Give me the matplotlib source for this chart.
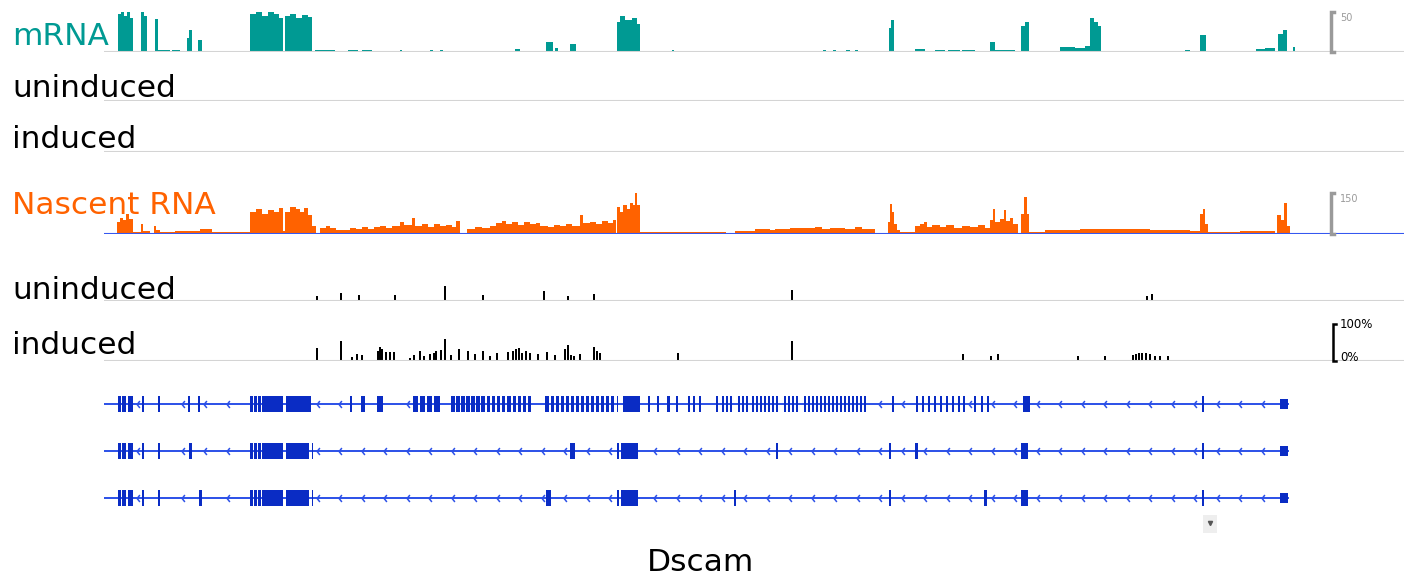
import matplotlib.pyplot as plt
import numpy as np
from matplotlib.path import Path
from matplotlib.patches import Rectangle

W, H = 1404, 575
TEAL = '#009a93'
ORANGE = '#ff6200'
EXON = '#0a2cc4'
INTRON = '#2b50e8'
GRID = '#d4d4d4'

# visible window and gene span (arbitrary genomic units)
win_start, win_end = 104, 1404
gene_start, gene_end = 104, 1288

# mRNA coverage (scale 0-50)
mrna_start = [106, 118, 121, 124, 127, 130, 141, 144, 155, 158, 172, 187, 189, 198,
              250, 256, 262, 268, 274, 279, 285, 290, 296, 302, 308,
              315, 348, 362, 400, 430, 440, 515, 546, 555, 570,
              617, 620, 625, 632, 637, 672, 823, 833, 846, 855, 889, 891,
              915, 935, 948, 962, 990, 995, 1021, 1025,
              1060, 1075, 1085, 1090, 1094, 1098, 1185, 1200, 1256, 1265, 1278, 1283, 1293]
mrna_end = [107, 121, 124, 127, 130, 133, 144, 147, 158, 170, 180, 189, 192, 202,
            256, 262, 268, 274, 279, 283, 290, 296, 302, 308, 312,
            335, 358, 372, 402, 433, 443, 520, 553, 558, 576,
            620, 625, 632, 637, 640, 674, 826, 836, 850, 858, 891, 894,
            925, 945, 960, 975, 995, 1015, 1025, 1029,
            1075, 1085, 1090, 1094, 1098, 1101, 1190, 1206, 1265, 1275, 1283, 1287, 1295]
mrna_cov = [1, 48, 50, 45, 50, 43, 50, 45, 41, 3, 3, 18, 28, 15,
            48, 50, 45, 50, 47, 43, 45, 47, 43, 46, 44,
            3, 3, 3, 2, 2, 2, 4, 12, 5, 10,
            38, 45, 40, 42, 35, 2, 2, 2, 2, 2, 30, 40,
            4, 3, 3, 3, 12, 3, 32, 37,
            6, 5, 8, 42, 37, 32, 3, 21, 4, 5, 22, 27, 6]

# nascent RNA coverage (scale 0-150)
nasc_start = [104, 117, 120, 123, 126, 129, 133, 141, 143, 154, 156, 160, 175, 200, 212,
              250, 256, 262, 268, 274, 279, 283,
              285, 290, 296, 300, 304, 308, 312,
              320, 326, 330, 336, 350, 356, 362, 368, 374, 380, 386, 392, 400, 404, 412,
              415, 422, 428, 434, 440, 446, 452, 456,
              467, 475, 482, 490, 496, 502, 506, 512, 518, 524, 530, 536, 540, 548, 554,
              560, 566, 572, 580, 583, 590, 596, 602, 608, 613,
              617, 620, 623, 627, 630, 633, 635, 637, 640, 700, 735, 755, 770, 775, 790,
              805, 815, 822, 830, 845, 855, 862, 875,
              888, 890, 892, 894, 897, 900, 915, 920, 924, 927, 932, 940, 946, 954, 962,
              970, 978, 985, 990, 993, 995, 1000, 1004, 1006, 1010, 1013, 1018,
              1021, 1024, 1027, 1029, 1045, 1080, 1150, 1190, 1200, 1203, 1205, 1208, 1240,
              1277, 1281, 1284, 1287, 1290]
nasc_end = [117, 120, 123, 126, 129, 133, 141, 143, 150, 156, 160, 175, 200, 212, 250,
            256, 262, 268, 274, 279, 283, 285,
            290, 296, 300, 304, 308, 312, 316,
            326, 330, 336, 350, 356, 362, 368, 374, 380, 386, 392, 400, 404, 412, 415,
            422, 428, 434, 440, 446, 452, 456, 460,
            475, 482, 490, 496, 502, 506, 512, 518, 524, 530, 536, 540, 548, 554, 560,
            566, 572, 580, 583, 590, 596, 602, 608, 613, 616,
            620, 623, 627, 630, 633, 635, 637, 640, 700, 726, 755, 770, 775, 790, 805,
            815, 822, 830, 845, 855, 862, 875, 888,
            890, 892, 894, 897, 900, 915, 920, 924, 927, 932, 940, 946, 954, 962, 970,
            978, 985, 990, 993, 995, 1000, 1004, 1006, 1010, 1013, 1018, 1021,
            1024, 1027, 1029, 1045, 1080, 1150, 1190, 1200, 1203, 1205, 1208, 1240, 1275,
            1281, 1284, 1287, 1290, 1404]
nasc_cov = [4, 45, 60, 52, 75, 56, 8, 38, 11, 30, 15, 8, 11, 19, 8,
            82, 90, 75, 86, 79, 94, 11,
            82, 98, 90, 82, 94, 68, 30,
            22, 30, 22, 15, 22, 19, 26, 19, 26, 30, 22, 30, 45, 34, 60,
            30, 38, 26, 38, 30, 34, 26, 49,
            19, 26, 22, 30, 41, 49, 38, 45, 34, 45, 38, 41, 30, 26, 34,
            30, 38, 30, 71, 41, 45, 38, 49, 41, 52,
            98, 82, 105, 90, 112, 105, 150, 105, 8, 8, 11, 19, 15, 19, 22,
            22, 26, 19, 22, 19, 26, 19, 4,
            45, 109, 82, 38, 15, 8, 30, 38, 45, 26, 34, 26, 34, 22, 30,
            26, 34, 22, 52, 90, 45, 56, 86, 49, 60, 38, 4,
            75, 135, 75, 8, 15, 19, 15, 11, 75, 90, 38, 8, 11,
            68, 52, 112, 30, 4]

# per-site percentage tracks
unind_pos = [317, 341, 359, 395, 445, 483, 544, 568, 594, 792, 1147, 1152]
unind_pct = [14, 22, 16, 16, 40, 16, 27, 14, 19, 30, 14, 19]

ind_pos = [317, 341, 352, 357, 362, 378, 380, 382, 386, 390, 394, 410, 414, 420, 424,
           430, 434, 436, 441, 445, 451, 459, 468, 475, 483, 490, 497, 508, 513, 516,
           519, 522, 526, 530, 538, 547, 555, 565, 568, 571, 574, 580, 594, 597, 600,
           678, 792, 963, 991, 998, 1078, 1105, 1133, 1136, 1139, 1142, 1146, 1150,
           1155, 1160, 1168]
ind_pct = [35, 54, 11, 19, 16, 27, 38, 32, 24, 24, 24, 8, 16, 27, 14,
           19, 22, 27, 30, 59, 16, 32, 27, 19, 27, 14, 22, 24, 27, 32,
           35, 22, 27, 22, 19, 24, 16, 32, 43, 16, 14, 19, 38, 27, 22,
           22, 54, 19, 14, 19, 14, 14, 16, 19, 22, 22, 22, 19,
           14, 14, 14]

# transcript models (exon start, end)
tx1_exons = [(118, 121), (122, 126), (128, 133), (142, 144), (158, 160), (188, 190), (198, 200),
             (250, 253), (254, 257), (258, 261), (262, 283), (286, 311), (350, 352), (361, 365),
             (377, 383), (413, 418), (420, 425), (427, 432), (434, 440),
             (451, 455), (456, 460), (461, 465), (466, 470), (471, 475), (476, 480), (481, 485),
             (487, 490), (492, 495), (497, 500), (502, 505), (507, 511), (513, 516), (518, 521),
             (523, 526), (528, 531),
             (545, 549), (551, 554), (556, 559), (561, 564), (566, 569), (571, 574), (576, 579),
             (581, 584), (586, 589), (591, 594), (596, 599), (601, 604), (606, 609), (611, 614),
             (617, 618), (623, 640), (648, 650), (657, 659), (667, 670), (676, 678),
             (688, 690), (693, 695), (699, 701),
             (716, 718), (722, 724), (726, 728), (730, 732), (738, 740), (742, 744), (746, 748),
             (752, 754), (756, 758), (760, 762), (764, 766), (768, 770), (772, 774), (776, 778),
             (784, 786), (788, 790), (792, 794), (796, 798), (804, 806), (808, 810), (812, 814),
             (816, 818), (820, 822), (824, 826), (828, 830), (832, 834), (836, 838), (840, 842),
             (844, 846), (848, 850), (852, 854), (856, 858), (860, 862), (864, 866),
             (892, 894), (916, 918), (922, 924), (928, 930), (934, 936), (940, 942), (946, 948),
             (952, 954), (958, 960), (963, 965), (974, 976), (981, 983), (987, 989),
             (1023, 1030), (1202, 1204)]
tx2_exons = [(118, 121), (122, 126), (128, 133), (142, 144), (158, 160), (189, 192),
             (250, 253), (254, 257), (258, 261), (262, 283), (286, 309), (312, 313),
             (570, 575), (617, 619), (621, 638), (776, 778), (889, 891), (915, 918),
             (1021, 1028), (1202, 1204)]
tx3_exons = [(118, 121), (122, 126), (128, 133), (142, 144), (158, 160), (199, 202),
             (250, 253), (254, 257), (258, 261), (262, 283), (286, 309), (312, 313),
             (546, 551), (617, 619), (621, 638), (734, 736), (889, 891), (984, 987),
             (1021, 1028), (1202, 1204)]
transcripts = [tx1_exons, tx2_exons, tx3_exons]
tss_box = (1280, 1288)

fig = plt.figure(figsize=(W / 100, H / 100), dpi=100)
fig.patch.set_facecolor('white')


def px_axes(left, top, right, bottom):
    ax = fig.add_axes([left / W, 1 - bottom / H, (right - left) / W, (bottom - top) / H])
    ax.set_xlim(win_start, win_end)
    ax.axis('off')
    return ax


def label(text, y, color='black'):
    fig.text(12 / W, 1 - y / H, text, fontsize=22.5, color=color, va='baseline', ha='left')


def bracket(ax, x, ymax, color, lw):
    ax.plot([x + 3, x, x, x + 3], [ymax, ymax, 0, 0], color=color, lw=lw,
            solid_joinstyle='miter', clip_on=False)


# mRNA
ax = px_axes(104, 12, 1404, 52)
ax.set_ylim(0, 50)
ax.bar(mrna_start, mrna_cov, width=np.subtract(mrna_end, mrna_start), align='edge',
       color=TEAL, linewidth=0)
ax.axhline(0, color=GRID, lw=1.5)
bracket(ax, 1331, 50, '#9a9a9a', 2.5)
ax.text(1340, 49, '50', fontsize=7, color='#9a9a9a', va='top')
label('mRNA', 45, TEAL)

for top, bottom, ytxt, txt in [(62, 101, 97, 'uninduced'), (113, 152, 148, 'induced')]:
    ax = px_axes(104, top, 1404, bottom)
    ax.set_ylim(0, 100)
    ax.axhline(0, color=GRID, lw=1.5)
    label(txt, ytxt)

# nascent RNA
ax = px_axes(104, 193, 1404, 234)
ax.set_ylim(0, 150)
ax.bar(nasc_start, nasc_cov, width=np.subtract(nasc_end, nasc_start), align='edge',
       color=ORANGE, linewidth=0)
ax.axhline(0, color='#3558f0', lw=1.5)
bracket(ax, 1331, 150, '#9a9a9a', 2.5)
ax.text(1340, 147, '150', fontsize=7, color='#9a9a9a', va='top')
label('Nascent RNA', 214, ORANGE)

# uninduced sites
ax = px_axes(104, 264, 1404, 301)
ax.set_ylim(0, 100)
ax.bar(unind_pos, unind_pct, width=2.5, color='black', linewidth=0)
ax.axhline(0, color=GRID, lw=1.5)
label('uninduced', 299)

# induced sites
ax = px_axes(104, 324, 1404, 361)
ax.set_ylim(0, 100)
ax.bar(ind_pos, ind_pct, width=2.5, color='black', linewidth=0)
ax.axhline(0, color=GRID, lw=1.5)
bracket(ax, 1333, 100, 'black', 1.8)
ax.text(1340, 100, '100%', fontsize=8.5, color='black', va='center')
ax.text(1340, 10, '0%', fontsize=8.5, color='black', va='center')
label('induced', 354)

# gene models
ax = px_axes(104, 380.5, 1404, 521.5)
ax.set_ylim(2.5, -0.5)
chevron = Path([(0.4, 1), (-0.4, 0), (0.4, -1)], [Path.MOVETO, Path.LINETO, Path.LINETO])
grid_x = np.arange(gene_start + 11, gene_end - 4, 22.5)
for i, exons in enumerate(transcripts):
    ax.plot([gene_start, gene_end], [i, i], color=INTRON, lw=1.4, zorder=1)
    for s, e in exons:
        ax.add_patch(Rectangle((s, i - 0.17), e - s, 0.34, color=EXON, lw=0, zorder=2))
    ax.add_patch(Rectangle((tss_box[0], i - 0.11), tss_box[1] - tss_box[0], 0.22,
                           color=EXON, lw=0, zorder=2))
    keep = [x for x in grid_x if all(x < s - 3 or x > e + 3 for s, e in exons)]
    ax.plot(keep, [i] * len(keep), linestyle='none', marker=chevron, markersize=5,
            markerfacecolor='none', markeredgecolor=INTRON, markeredgewidth=1.1, zorder=3)

# small browser widget under the models
fig.patches.append(Rectangle((1203 / W, 1 - 533 / H), 14 / W, 18 / H,
                             transform=fig.transFigure, facecolor='#eeeeee', edgecolor='none'))
fig.lines.append(plt.Line2D([1210 / W], [1 - 523 / H], transform=fig.transFigure,
                            marker='v', markersize=3, color='#555555', linestyle='none'))

fig.text(700 / W, 1 - 571 / H, 'Dscam', fontsize=22.5, ha='center', va='baseline')

fig.savefig('out.png', dpi=100)
